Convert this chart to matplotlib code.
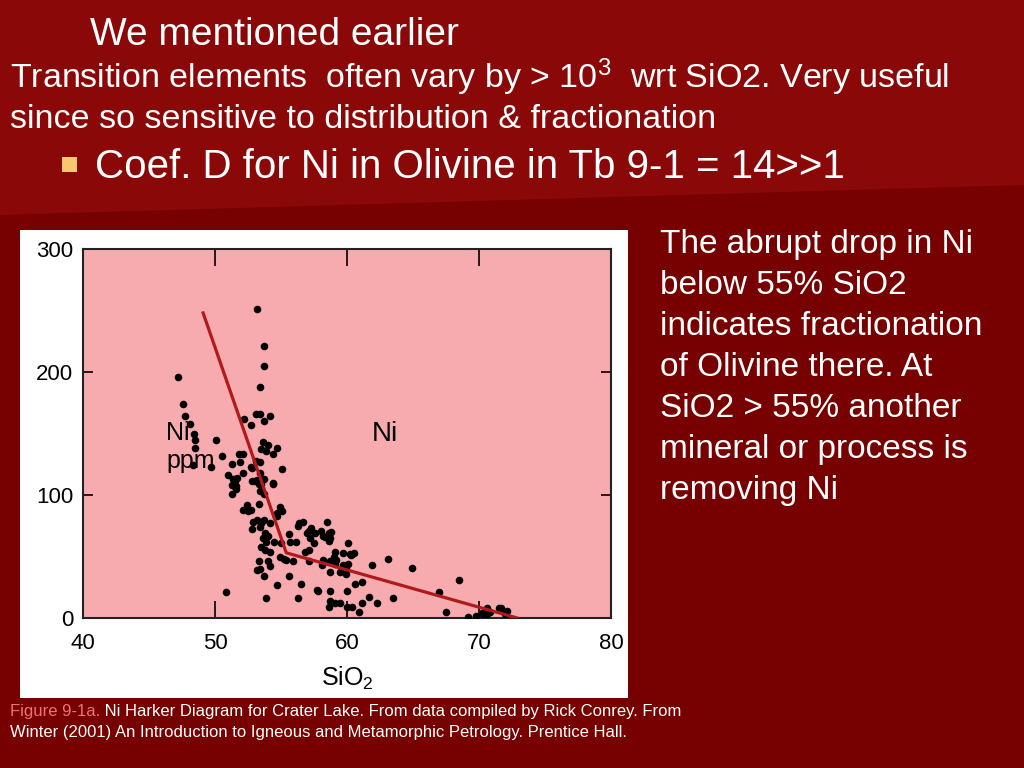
import matplotlib

matplotlib.use("Agg")
import matplotlib.pyplot as plt
from matplotlib.patches import Polygon, Rectangle

plt.rcParams["font.family"] = ["Liberation Sans", "DejaVu Sans"]
plt.rcParams["mathtext.fontset"] = "custom"
plt.rcParams["mathtext.rm"] = "Liberation Sans"
plt.rcParams["mathtext.it"] = "Liberation Sans:italic"

# Crater Lake samples (SiO2 wt%, Ni ppm)
sio2 = [
    53.2, 53.7, 53.7, 53.4, 47.2, 47.6, 47.7, 48.1, 48.4, 48.5, 48.5, 50.1, 50.5,
    52.2, 52.7, 53.1, 53.4, 53.7, 54.2, 53.6, 54.0, 54.7, 54.4, 53.5, 53.9, 51.8,
    52.1, 51.3, 51.9, 52.7, 53.4, 53.1, 52.8, 55.1, 49.7, 48.3, 51.0, 51.4, 51.7,
    52.1, 51.6, 51.3, 54.4, 53.7, 53.2,
    51.5, 51.3, 51.6, 53.0, 53.3, 54.4, 53.7, 52.4, 52.1, 52.5, 52.7, 53.3, 54.9,
    55.1, 54.7, 52.9, 53.2, 53.5, 53.7, 53.4, 52.8, 54.2, 54.7, 53.8, 54.0, 53.6,
    53.9, 54.5, 53.5, 53.8, 54.2, 55.0, 55.6, 55.7, 56.1, 56.4, 56.7, 56.3, 57.1,
    57.3, 57.0, 57.6, 57.2, 57.5, 57.1, 56.8, 58.0, 58.5, 58.6, 58.3, 58.7, 58.8,
    58.2, 58.6, 60.1, 51.4, 53.4, 52.8, 53.5, 53.4,
    54.9, 55.2, 55.4, 55.9, 53.3, 54.0, 54.2, 53.4, 53.2, 53.7, 55.6, 54.7, 56.5,
    57.1, 58.2, 58.7, 59.1, 59.2, 59.7, 59.9, 59.1, 59.7, 60.2, 59.0, 60.3, 60.5,
    58.1, 58.7, 59.5, 59.9, 60.1, 61.9, 63.1, 64.9, 60.6, 61.1, 57.7, 57.8, 58.7,
    58.7, 50.8, 53.9, 56.3, 59.1, 59.5, 58.6, 60.0, 60.4, 60.9, 61.1, 62.3, 61.7,
    63.5, 60.0, 68.5, 67.0, 67.5, 69.2, 69.8, 70.2, 70.6, 70.8, 70.3, 70.6, 71.5,
    71.7, 72.1, 72.0,
]
ni_ppm = [
    251, 221, 205, 188, 196, 174, 164, 158, 150, 145, 138, 145, 132,
    162, 157, 166, 166, 160, 164, 143, 141, 138, 133, 137, 136, 133,
    133, 125, 127, 123, 127, 128, 122, 121, 123, 124, 116, 113, 114,
    118, 107, 108, 110, 113, 112,
    111, 101, 105, 111, 109, 109, 101, 92, 88, 87, 88, 93, 90,
    87, 85, 78, 80, 77, 80, 74, 72, 77, 83, 69, 67, 65,
    62, 62, 58, 55, 54, 61, 68, 62, 62, 77, 78, 75, 71,
    73, 69, 69, 65, 61, 55, 54, 71, 78, 69, 66, 65, 70,
    67, 63, 61, 108, 118, 111, 109, 103,
    50, 48, 47, 46, 46, 46, 42, 40, 39, 34, 34, 27, 28,
    46, 47, 46, 44, 47, 43, 40, 54, 53, 52, 50, 51, 53,
    43, 37, 37, 36, 44, 43, 48, 41, 28, 29, 23, 22, 22,
    14, 21, 16, 16, 12, 12, 9, 9, 9, 5, 12, 12, 17,
    16, 22, 31, 21, 5, 1, 2, 4, 8, 5, 3, 3, 8,
    8, 6, 3,
]

# fractionation trend drawn on the figure
trend_sio2 = [49.1, 55.4, 72.9]
trend_ni = [248, 53, 0]

x_ticks = [40, 50, 60, 70, 80]
y_ticks = [0, 100, 200, 300]

side_lines = [
    "The abrupt drop in Ni",
    "below 55% SiO2",
    "indicates fractionation",
    "of Olivine there. At",
    "SiO2 > 55% another",
    "mineral or process is",
    "removing Ni",
]

W, H = 1024, 768
fig = plt.figure(figsize=(W / 100, H / 100), dpi=100)
fig.patch.set_facecolor("#770000")


def px_rect(x0, y0, w, h, **kw):
    # rectangle given in screen pixels (top-left origin)
    return Rectangle((x0 / W, 1 - (y0 + h) / H), w / W, h / H,
                     transform=fig.transFigure, zorder=-5, **kw)


# slide banner, white figure panel and bullet square
fig.patches.append(Polygon([(0, 1), (1, 1), (1, 1 - 185 / H), (0, 1 - 215 / H)],
                           closed=True, transform=fig.transFigure, zorder=-6,
                           facecolor="#8a0808", edgecolor="none"))
fig.patches.append(px_rect(20, 230, 608, 468, facecolor="white", edgecolor="none"))
fig.patches.append(px_rect(62, 157, 15, 15, facecolor="#f8c870", edgecolor="none"))

ax = fig.add_axes([83 / W, 1 - 618 / H, 528 / W, 369 / H])
ax.set_facecolor("#f8abaf")
ax.scatter(sio2, ni_ppm, s=30, color="black", linewidths=0, zorder=3)
ax.plot(trend_sio2, trend_ni, color="#b01a1a", lw=2.3, zorder=4)

ax.set_xlim(40, 80)
ax.set_ylim(0, 300)
ax.set_xticks(x_ticks)
ax.set_yticks(y_ticks)
ax.tick_params(axis="x", direction="in", length=12, width=1.2, top=True,
               labelsize=16, pad=10.5)
ax.tick_params(axis="y", direction="in", length=7, width=1.2, right=True,
               labelsize=16, pad=7)
for side in ax.spines.values():
    side.set_linewidth(1.5)
    side.set_color("#222222")
ax.set_xlabel("SiO$_2$", fontsize=18, labelpad=8)

ax.text(46.3, 144.5, "Ni", fontsize=18, va="baseline", ha="left")
ax.text(46.3, 122, "ppm", fontsize=18, va="baseline", ha="left")
ax.text(62.9, 144, "Ni", fontsize=20, va="baseline", ha="center")

# slide text
fig.text(90 / W, 1 - 45 / H, "We mentioned earlier", fontsize=28, color="white")
fig.text(10 / W, 1 - 88 / H,
         r"Transition elements  often vary by > 10$^{\mathrm{3}}$  wrt SiO2. Very useful",
         fontsize=24.5, color="white")
fig.text(10 / W, 1 - 128 / H, "since so sensitive to distribution & fractionation",
         fontsize=24.5, color="white")
fig.text(95 / W, 1 - 178 / H, "Coef. D for Ni in Olivine in Tb 9-1 = 14>>1",
         fontsize=29, color="white")

for i, line in enumerate(side_lines):
    fig.text(660 / W, 1 - (253 + 41 * i) / H, line, fontsize=24, color="white")

label = fig.text(10 / W, 1 - 716 / H, "Figure 9-1a.", fontsize=12, color="#f07272")
ax.annotate(" Ni Harker Diagram for Crater Lake. From data compiled by Rick Conrey. From",
            xy=(1, 0), xycoords=label, va="bottom", ha="left",
            fontsize=12, color="white", annotation_clip=False)
fig.text(10 / W, 1 - 737 / H,
         "Winter (2001) An Introduction to Igneous and Metamorphic Petrology. Prentice Hall.",
         fontsize=12, color="white")

fig.savefig("out.png", dpi=100, facecolor=fig.get_facecolor())
